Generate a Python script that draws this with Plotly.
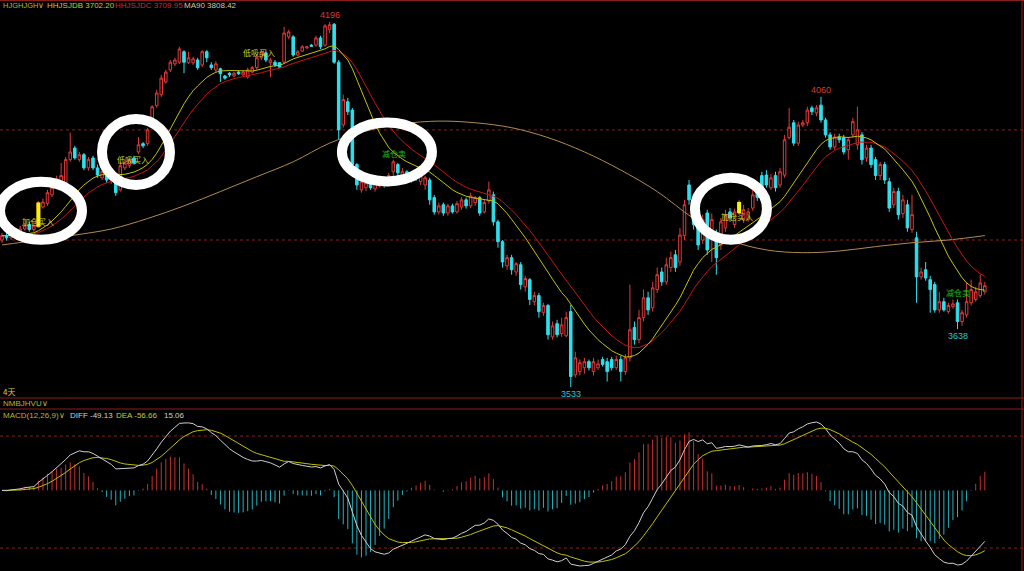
import plotly.graph_objects as go
import pandas as pd

# ---------------- data ----------------
OPEN = [
    3800, 3808, 3804, 3817, 3809, 3820, 3828, 3819, 3824, 3860,
    3866, 3882, 3898, 3902, 3904, 3946, 3967, 3946, 3955, 3931,
    3949, 3931, 3913, 3924, 3909, 3915, 3891, 3931, 3935, 3949,
    3960, 3975, 3975, 4018, 4044, 4064, 4087, 4109, 4120, 4123,
    4142, 4122, 4122, 4127, 4118, 4142, 4118, 4109, 4111, 4098,
    4103, 4098, 4105, 4100, 4096, 4105, 4113, 4131, 4140, 4122,
    4123, 4122, 4123, 4169, 4169, 4136, 4143, 4149, 4154, 4154,
    4167, 4154, 4182, 4192, 4123, 4009, 4051, 4036, 3937, 3891,
    3895, 3906, 3893, 3898, 3911, 3900, 3924, 3937, 3913, 3924,
    3909, 3918, 3906, 3900, 3909, 3877, 3851, 3864, 3849, 3862,
    3851, 3860, 3873, 3862, 3868, 3877, 3851, 3871, 3882, 3833,
    3797, 3753, 3768, 3742, 3755, 3715, 3728, 3688, 3699, 3668,
    3681, 3624, 3648, 3630, 3626, 3670, 3555, 3561, 3568, 3579,
    3561, 3568, 3583, 3579, 3583, 3568, 3583, 3561, 3586, 3641,
    3619, 3659, 3695, 3677, 3710, 3742, 3724, 3750, 3773, 3760,
    3808, 3900, 3873, 3828, 3800, 3849, 3809, 3809, 3791, 3822,
    3851, 3828, 3849, 3837, 3837, 3858, 3891, 3917, 3918, 3895,
    3917, 3900, 3918, 3986, 4013, 3976, 4009, 4013, 4040, 4031,
    4045, 4018, 3991, 3969, 3987, 3986, 3964, 3991, 3973, 3991,
    3949, 3967, 3946, 3917, 3937, 3906, 3864, 3888, 3848, 3864,
    3819, 3804, 3733, 3746, 3728, 3719, 3673, 3688, 3670, 3679,
    3686, 3652, 3664, 3686, 3692, 3699, 3706,
]
HIGH = [
    3813, 3813, 3822, 3820, 3826, 3831, 3833, 3833, 3871, 3875,
    3891, 3900, 3917, 3940, 3951, 3995, 3971, 3960, 3958, 3951,
    3953, 3937, 3929, 3927, 3918, 3918, 3942, 3946, 3949, 3953,
    3987, 3978, 4004, 4045, 4073, 4100, 4109, 4127, 4131, 4151,
    4145, 4142, 4133, 4131, 4145, 4145, 4123, 4125, 4113, 4100,
    4105, 4105, 4107, 4109, 4113, 4116, 4134, 4145, 4143, 4131,
    4127, 4123, 4187, 4182, 4172, 4145, 4154, 4152, 4156, 4171,
    4171, 4192, 4196, 4194, 4127, 4064, 4058, 4040, 3940, 3913,
    3909, 3911, 3909, 3917, 3915, 3922, 3946, 3940, 3931, 3927,
    3924, 3922, 3920, 3917, 3913, 3882, 3868, 3868, 3866, 3866,
    3871, 3878, 3877, 3886, 3880, 3880, 3873, 3906, 3888, 3837,
    3800, 3773, 3773, 3760, 3760, 3735, 3731, 3706, 3704, 3686,
    3684, 3652, 3655, 3659, 3670, 3682, 3597, 3583, 3586, 3583,
    3586, 3583, 3588, 3586, 3588, 3590, 3590, 3593, 3719, 3652,
    3673, 3710, 3706, 3724, 3750, 3750, 3768, 3779, 3782, 3822,
    3873, 3909, 3882, 3837, 3846, 3855, 3848, 3819, 3840, 3855,
    3858, 3857, 3873, 3864, 3858, 3891, 3898, 3924, 3927, 3920,
    3924, 3931, 3991, 4040, 4018, 4015, 4018, 4042, 4044, 4045,
    4060, 4022, 3996, 3993, 3993, 3991, 3987, 4022, 4042, 3996,
    3973, 3973, 3951, 3942, 3942, 3913, 3895, 3895, 3882, 3873,
    3882, 3815, 3750, 3760, 3735, 3724, 3706, 3695, 3686, 3692,
    3692, 3673, 3722, 3728, 3715, 3737, 3724,
]
LOW = [
    3795, 3799, 3800, 3806, 3806, 3817, 3815, 3815, 3822, 3857,
    3862, 3878, 3895, 3898, 3900, 3942, 3946, 3942, 3927, 3926,
    3927, 3913, 3909, 3904, 3902, 3880, 3888, 3927, 3931, 3937,
    3956, 3967, 3971, 4015, 4040, 4060, 4084, 4105, 4116, 4120,
    4103, 4120, 4118, 4109, 4114, 4123, 4109, 4105, 4087, 4091,
    4096, 4096, 4100, 4098, 4093, 4103, 4109, 4127, 4123, 4096,
    4114, 4113, 4120, 4165, 4133, 4133, 4142, 4147, 4151, 4151,
    4147, 4151, 4176, 4120, 3982, 4004, 4027, 3931, 3891, 3886,
    3889, 3891, 3888, 3895, 3895, 3897, 3915, 3915, 3909, 3907,
    3904, 3907, 3900, 3891, 3864, 3846, 3846, 3844, 3844, 3848,
    3848, 3855, 3857, 3858, 3862, 3844, 3848, 3866, 3826, 3786,
    3750, 3746, 3737, 3735, 3710, 3706, 3682, 3681, 3659, 3662,
    3619, 3619, 3623, 3624, 3623, 3533, 3550, 3554, 3557, 3563,
    3554, 3564, 3570, 3543, 3563, 3564, 3543, 3555, 3579, 3610,
    3613, 3652, 3664, 3670, 3704, 3717, 3719, 3742, 3742, 3753,
    3800, 3864, 3819, 3782, 3793, 3773, 3760, 3737, 3782, 3815,
    3833, 3822, 3846, 3831, 3833, 3853, 3871, 3886, 3895, 3891,
    3888, 3895, 3913, 3982, 3971, 3971, 4005, 4007, 4027, 4025,
    4013, 3986, 3964, 3964, 3976, 3955, 3946, 3986, 3964, 3937,
    3942, 3931, 3909, 3909, 3902, 3851, 3858, 3837, 3840, 3815,
    3813, 3686, 3728, 3726, 3668, 3668, 3668, 3670, 3666, 3675,
    3638, 3644, 3659, 3681, 3688, 3695, 3701,
]
CLOSE = [
    3808, 3804, 3817, 3811, 3820, 3826, 3819, 3826, 3868, 3869,
    3886, 3895, 3911, 3917, 3946, 3960, 3949, 3955, 3931, 3946,
    3931, 3918, 3924, 3909, 3913, 3886, 3935, 3940, 3946, 3940,
    3973, 3971, 4000, 4042, 4067, 4094, 4105, 4123, 4127, 4147,
    4123, 4131, 4129, 4113, 4142, 4131, 4113, 4120, 4102, 4094,
    4100, 4103, 4102, 4105, 4109, 4113, 4131, 4142, 4127, 4127,
    4118, 4114, 4176, 4178, 4136, 4142, 4151, 4151, 4152, 4167,
    4151, 4189, 4191, 4123, 4000, 4055, 4033, 3937, 3900, 3906,
    3904, 3895, 3904, 3911, 3900, 3917, 3942, 3922, 3924, 3913,
    3918, 3911, 3917, 3913, 3873, 3851, 3862, 3849, 3862, 3851,
    3866, 3873, 3862, 3880, 3877, 3849, 3868, 3891, 3833, 3797,
    3760, 3768, 3746, 3757, 3719, 3730, 3692, 3699, 3670, 3681,
    3628, 3644, 3628, 3646, 3659, 3552, 3586, 3577, 3579, 3568,
    3579, 3575, 3574, 3561, 3568, 3583, 3561, 3586, 3637, 3619,
    3659, 3695, 3673, 3713, 3737, 3724, 3755, 3768, 3750, 3809,
    3864, 3873, 3828, 3791, 3837, 3782, 3837, 3768, 3833, 3846,
    3840, 3851, 3869, 3855, 3851, 3882, 3877, 3891, 3900, 3913,
    3895, 3924, 3982, 4005, 3976, 4009, 4013, 4036, 4033, 4040,
    4018, 3991, 3969, 3987, 3982, 3960, 3982, 4015, 4000, 3946,
    3967, 3937, 3917, 3937, 3909, 3858, 3888, 3846, 3873, 3822,
    3846, 3733, 3742, 3731, 3710, 3673, 3688, 3673, 3681, 3684,
    3652, 3668, 3688, 3710, 3706, 3722, 3717,
]

# MA90 at every 8th bar
MA90_BARS = [0, 8, 16, 24, 32, 40, 48, 56, 64, 72, 80, 88, 96, 104,
             112, 120, 128, 136, 144, 152, 160, 168, 176, 184, 192, 200, 208, 216]
MA90_VALUES = [3791, 3800, 3809, 3820, 3839, 3862, 3888, 3915, 3942, 3976,
               3998, 4011, 4016, 4013, 4004, 3986, 3960, 3927, 3888, 3839,
               3800, 3782, 3777, 3780, 3788, 3795, 3800, 3808]

# signal bars (painted yellow) and signal labels
SIGNAL_BARS = [8, 162]
SIGNAL_LABELS = [  # (bar, price, text, kind)
    (7.9, 3833, "加仓买入", "buy"),
    (28.8, 3946, "低吸买入", "buy"),
    (56.5, 4140, "低吸买入", "buy"),
    (86.2, 3958, "减仓卖", "sell"),
    (161.5, 3842, "加仓买入", "buy"),
    (210.1, 3704, "减仓卖", "sell"),
]
# highlight rings: (anchor bar, anchor price, width px, height px)
RINGS = [(8.57, 3853, 82, 58), (29.45, 3960, 68, 66),
         (84.6, 3960, 90, 59), (160.2, 3857, 72, 62)]
# windows (start, end, kind) in which the extreme prices are labelled
EXTREME_WINDOWS = [(0, 217, "high"), (150, 217, "high"),
                   (0, 217, "low"), (190, 217, "low")]
GRID_PRICES = [3800, 4000]

HEADER = [("HJGHJGH∨", "#b4b43c"), ("HHJSJDB 3702.20", "#c8c832"),
          ("HHJSJDC 3709.95", "#d22a2a"), ("MA90 3808.42", "#d2c4a6")]
MACD_HEADER = [("MACD(12,26,9)∨", "#b4b43c"), ("DIFF -49.13", "#d0d0d0"),
               ("DEA -56.66", "#c8c832"), ("15.06", "#d0d0d0")]

# ---------------- styles ----------------
W, H = 1024, 571
RED = "#e03a3a"
CYAN = "#2ee0ee"
YEL_MA = "#c4c400"
RED_MA = "#c81414"
MA90_C = "#b08a4e"
GRID = "#8c1c1c"
BG = "#000000"
LATIN = "Liberation Sans, Arial, sans-serif"
CJK = "Noto Sans CJK SC, sans-serif"

N = len(CLOSE)
BARS = list(range(N))
close = pd.Series(CLOSE, dtype=float)
ma_fast = close.ewm(span=8, adjust=False).mean().ewm(span=8, adjust=False).mean()
ma_slow = close.ewm(span=11, adjust=False).mean().ewm(span=11, adjust=False).mean()
ema12 = close.ewm(span=12, adjust=False).mean()
ema26 = close.ewm(span=26, adjust=False).mean()
diff = ema12 - ema26
dea = diff.ewm(span=9, adjust=False).mean()
hist = 2 * (diff - dea)

# pixel geometry of the panels
MAIN_BOTTOM_PX = 397
MACD_TOP_PX = 409
X_FIRST_PX, X_STEP_PX = 2.0, 4.55
x_lo = -X_FIRST_PX / X_STEP_PX
x_hi = (W - X_FIRST_PX) / X_STEP_PX
XR = [x_lo, x_hi]

hi_p, lo_p = max(HIGH), min(LOW)
unit = (hi_p - lo_p) / (387 - 22)
YR = [lo_p - (MAIN_BOTTOM_PX - 387) * unit, hi_p + 22 * unit]

m_hi = max(diff.max(), dea.max())
m_lo = min(diff.min(), dea.min())
mu = (m_hi - m_lo) / (566 - 422)
YR2 = [m_lo - (H - 566) * mu, m_hi + (422 - MACD_TOP_PX) * mu]

fig = go.Figure()

fig.add_trace(go.Scatter(x=MA90_BARS, y=MA90_VALUES, mode="lines",
                         line=dict(color=MA90_C, width=1, shape="spline"),
                         hoverinfo="skip", xaxis="x", yaxis="y"))
fig.add_trace(go.Candlestick(
    x=BARS, open=OPEN, high=HIGH, low=LOW, close=CLOSE,
    increasing=dict(line=dict(color=RED, width=1), fillcolor=BG),
    decreasing=dict(line=dict(color=CYAN, width=1), fillcolor=CYAN),
    whiskerwidth=0, hoverinfo="skip", xaxis="x", yaxis="y"))
fig.add_trace(go.Scatter(x=BARS, y=ma_slow, mode="lines",
                         line=dict(color=RED_MA, width=1), hoverinfo="skip"))
fig.add_trace(go.Scatter(x=BARS, y=ma_fast, mode="lines",
                         line=dict(color=YEL_MA, width=1), hoverinfo="skip"))

sx, sy = [], []
for b in SIGNAL_BARS:
    sx += [b, b, None]
    sy += [OPEN[b], CLOSE[b], None]
fig.add_trace(go.Scatter(x=sx, y=sy, mode="lines",
                         line=dict(color="#f4f400", width=4), hoverinfo="skip"))

# MACD histogram as thin sticks
px_, py_, nx_, ny_ = [], [], [], []
for i, v in enumerate(hist):
    if v >= 0:
        px_ += [i, i, None]; py_ += [0, v, None]
    else:
        nx_ += [i, i, None]; ny_ += [0, v, None]
fig.add_trace(go.Scatter(x=px_, y=py_, mode="lines", line=dict(color="#c83030", width=1),
                         hoverinfo="skip", xaxis="x2", yaxis="y2"))
fig.add_trace(go.Scatter(x=nx_, y=ny_, mode="lines", line=dict(color="#22b4c0", width=1),
                         hoverinfo="skip", xaxis="x2", yaxis="y2"))
fig.add_trace(go.Scatter(x=BARS, y=dea, mode="lines", line=dict(color="#c0c000", width=1),
                         hoverinfo="skip", xaxis="x2", yaxis="y2"))
fig.add_trace(go.Scatter(x=BARS, y=diff, mode="lines", line=dict(color="#cfcfcf", width=1),
                         hoverinfo="skip", xaxis="x2", yaxis="y2"))

shapes = []
for gp in GRID_PRICES:
    shapes.append(dict(type="line", xref="paper", yref="y", x0=0, x1=1, y0=gp, y1=gp,
                       line=dict(color=GRID, width=1, dash="dot"), layer="below"))
for f in [(H - 436) / (H - MACD_TOP_PX), (H - 548) / (H - MACD_TOP_PX)]:
    shapes.append(dict(type="line", xref="paper", yref="y2 domain", x0=0, x1=1, y0=f, y1=f,
                       line=dict(color=GRID, width=1, dash="dot"), layer="below"))
for ypx in [0.5, 398, 409]:
    yy = 1 - ypx / H
    shapes.append(dict(type="line", xref="paper", yref="paper", x0=0, x1=1, y0=yy, y1=yy,
                       line=dict(color=GRID, width=1)))
shapes.append(dict(type="line", xref="paper", yref="paper", x0=1022 / W, x1=1022 / W,
                   y0=0, y1=1, line=dict(color=GRID, width=1)))
for (b, p, w, h) in RINGS:
    shapes.append(dict(type="circle", xref="x", yref="y", xsizemode="pixel",
                       ysizemode="pixel", xanchor=b, yanchor=p,
                       x0=-w / 2, x1=w / 2, y0=-h / 2, y1=h / 2,
                       line=dict(color="white", width=10), fillcolor="rgba(0,0,0,0)"))

ann = []
for (b, p, t, kind) in SIGNAL_LABELS:
    ann.append(dict(x=b, y=p, xref="x", yref="y", text=t, showarrow=False,
                    font=dict(family=CJK, size=8,
                              color="#d2d232" if kind == "buy" else "#10c010"),
                    xanchor="center", yanchor="middle"))
for (s, e, kind) in EXTREME_WINDOWS:
    if kind == "high":
        seg = HIGH[s:e]
        i = s + seg.index(max(seg))
        ann.append(dict(x=i, y=HIGH[i], xref="x", yref="y", text=f"{HIGH[i]:.0f}",
                        showarrow=False, font=dict(family="Liberation Sans", size=9, color="#d83838"),
                        xanchor="center", yanchor="bottom"))
    else:
        seg = LOW[s:e]
        i = s + seg.index(min(seg))
        ann.append(dict(x=i, y=LOW[i], xref="x", yref="y", text=f"{LOW[i]:.0f}",
                        showarrow=False, font=dict(family="Liberation Sans", size=9, color="#28c4d2"),
                        xanchor="center", yanchor="top"))

def px_text(x, y, t, c, size=8, fam=LATIN):
    ann.append(dict(x=x / W, y=1 - y / H, xref="paper", yref="paper", text=t,
                    showarrow=False, font=dict(family=fam, size=size, color=c),
                    xanchor="left", yanchor="middle"))

for (t, c), xp, sz in zip(HEADER, [1, 45, 113, 182], [7.5, 8, 8, 8]):
    px_text(xp, 6, t, c, size=sz)
px_text(1, 392, "4天", "#d4d428", size=8, fam=CJK)
px_text(1, 403.5, "NMBJHVU∨", "#b4b43c")
for (t, c), xp in zip(MACD_HEADER, [1, 68, 114, 162]):
    px_text(xp, 415, t, c)

fig.update_layout(
    width=W, height=H, margin=dict(l=0, r=0, t=0, b=0),
    paper_bgcolor=BG, plot_bgcolor=BG, showlegend=False, hovermode=False,
    boxgap=0.2,
    xaxis=dict(domain=[0, 1], range=XR, visible=False, anchor="y",
               rangeslider=dict(visible=False)),
    yaxis=dict(domain=[1 - MAIN_BOTTOM_PX / H, 1], range=YR, visible=False),
    xaxis2=dict(domain=[0, 1], range=XR, visible=False, anchor="y2", matches="x"),
    yaxis2=dict(domain=[0, 1 - MACD_TOP_PX / H], range=YR2, visible=False),
    shapes=shapes, annotations=ann,
)

fig.write_html("out.html", config={"displayModeBar": False},
               post_script="document.body.style.margin='0px';"
                           "document.body.style.background='#000';")
